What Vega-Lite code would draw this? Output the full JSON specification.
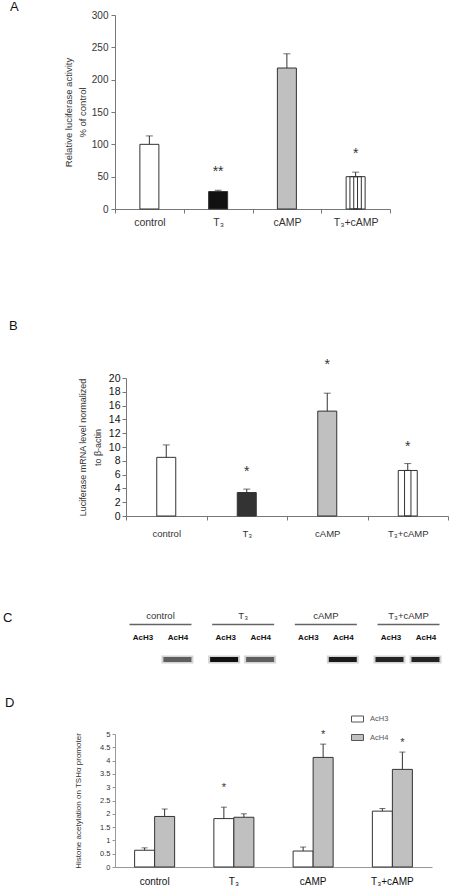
{
"$schema": "https://vega.github.io/schema/vega-lite/v6.json",
"padding": {"left": 3, "top": 1, "right": 0, "bottom": 0},
"background": "white",
"config": {
  "view": {"stroke": null},
  "font": "Liberation Sans",
  "axis": {"grid": false, "domainColor": "#777", "tickColor": "#777", "labelColor": "#333", "titleColor": "#333", "titleFontWeight": "normal", "labelFont": "Liberation Sans", "titleFont": "Liberation Sans", "labelFlush": false, "labelOverlap": false},
  "title": {"font": "Liberation Sans", "fontWeight": "normal", "fontSize": 13, "anchor": "start", "frame": "group", "offset": 0, "color": "#111"},
  "legend": {"labelFont": "Liberation Sans"}
},
"columns": 1,
"align": "none",
"spacing": 0,
"resolve": {"scale": {"fill": "independent", "xOffset": "independent", "opacity": "independent"}, "legend": {"fill": "independent", "opacity": "independent"}},
"concat": [
{
 "title": {"text": "A", "dx": -105, "dy": 8},
 "width": 275, "height": 194,
 "data": {"values": [
   {"treatment": "control", "value": 100, "err": 113, "sig": ""},
   {"treatment": "T₃", "value": 27, "err": 29, "sig": "**"},
   {"treatment": "cAMP", "value": 218, "err": 240, "sig": ""},
   {"treatment": "T₃+cAMP", "value": 50, "err": 57, "sig": "*"}
 ]},
 "resolve": {"axis": {"y": "independent"}},
 "encoding": {
   "x": {"field": "treatment", "type": "nominal", "sort": null, "scale": {"paddingInner": 0, "paddingOuter": 0},
         "axis": {"title": null, "labelAngle": 0, "tickBand": "extent", "tickSize": 4, "labelFontSize": 10.5, "labelPadding": 4}}
 },
 "layer": [
   {"mark": {"type": "bar", "width": 19, "stroke": "#333", "strokeWidth": 1},
    "encoding": {
      "y": {"field": "value", "type": "quantitative", "scale": {"domain": [0, 300]},
            "axis": {"values": [0,50,100,150,200,250,300], "labelOverlap": false, "title": ["Relative luciferase activity", "% of control"], "titleFontSize": 9.5, "titleLineHeight": 14, "labelFontSize": 10, "tickSize": 4, "labelPadding": 3, "titlePadding": 4}},
      "fill": {"field": "treatment", "type": "nominal", "sort": null, "scale": {"domain": ["control","T₃","cAMP","T₃+cAMP"], "range": ["#ffffff","#111111","#c0c0c0","#ffffff"]}, "legend": null}
    }},
   {"transform": [{"filter": "datum.treatment === 'T₃+cAMP'"}],
    "mark": {"type": "bar", "width": 11.4, "fillOpacity": 0, "stroke": "#333", "strokeWidth": 1},
    "encoding": {"y": {"field": "value", "type": "quantitative", "axis": null}}},
   {"transform": [{"filter": "datum.treatment === 'T₃+cAMP'"}],
    "mark": {"type": "bar", "width": 3.8, "fillOpacity": 0, "stroke": "#333", "strokeWidth": 1},
    "encoding": {"y": {"field": "value", "type": "quantitative", "axis": null}}},
   {"mark": {"type": "rule", "color": "#333"},
    "encoding": {"y": {"field": "value", "type": "quantitative", "axis": null}, "y2": {"field": "err"}}},
   {"mark": {"type": "tick", "orient": "horizontal", "size": 7, "thickness": 1, "color": "#333"},
    "encoding": {"y": {"field": "err", "type": "quantitative", "axis": null}}},
   {"mark": {"type": "text", "fontSize": 14, "dy": -18, "baseline": "middle", "color": "#333"},
    "encoding": {"y": {"field": "err", "type": "quantitative", "axis": null}, "text": {"field": "sig"}}}
 ]
},
{"width": 1, "height": 92, "data": {"values": []}, "mark": "point"},
{
 "title": {"text": "B", "dx": -106, "dy": -21},
 "width": 333, "height": 138,
 "data": {"values": [
   {"treatment": "control", "value": 8.5, "err": 10.3, "sig": ""},
   {"treatment": "T₃", "value": 3.4, "err": 3.9, "sig": "*"},
   {"treatment": "cAMP", "value": 15.2, "err": 17.8, "sig": "*"},
   {"treatment": "T₃+cAMP", "value": 6.6, "err": 7.6, "sig": "*"}
 ]},
 "resolve": {"axis": {"y": "independent"}},
 "encoding": {
   "x": {"field": "treatment", "type": "nominal", "sort": null, "scale": {"paddingInner": 0, "paddingOuter": 0, "range": [11, 333]},
         "axis": {"title": null, "labelAngle": 0, "tickBand": "extent", "tickSize": 4, "labelFontSize": 9.5, "labelPadding": 8}}
 },
 "layer": [
   {"mark": {"type": "bar", "width": 19, "stroke": "#333", "strokeWidth": 1},
    "encoding": {
      "y": {"field": "value", "type": "quantitative", "scale": {"domain": [0, 20]},
            "axis": {"offset": -11, "values": [0,2,4,6,8,10,12,14,16,18,20], "labelOverlap": false, "title": ["Luciferase mRNA level normalized", "to β-actin"], "titleFontSize": 9, "titleLineHeight": 15, "labelFontSize": 10.5, "labelColor": "#111", "tickSize": 4, "labelPadding": 2, "titlePadding": 6}},
      "fill": {"field": "treatment", "type": "nominal", "sort": null, "scale": {"domain": ["control","T₃","cAMP","T₃+cAMP"], "range": ["#ffffff","#333333","#c0c0c0","#ffffff"]}, "legend": null}
    }},
   {"transform": [{"filter": "datum.treatment === 'T₃+cAMP'"}],
    "mark": {"type": "bar", "width": 6.4, "fillOpacity": 0, "stroke": "#333", "strokeWidth": 1},
    "encoding": {"y": {"field": "value", "type": "quantitative", "axis": null}}},
   {"mark": {"type": "rule", "color": "#333"},
    "encoding": {"y": {"field": "value", "type": "quantitative", "axis": null}, "y2": {"field": "err"}}},
   {"mark": {"type": "tick", "orient": "horizontal", "size": 7, "thickness": 1, "color": "#333"},
    "encoding": {"y": {"field": "err", "type": "quantitative", "axis": null}}},
   {"transform": [{"filter": "datum.treatment !== 'cAMP'"}],
    "mark": {"type": "text", "fontSize": 14, "dy": -17, "baseline": "middle", "color": "#333"},
    "encoding": {"y": {"field": "err", "type": "quantitative", "axis": null}, "text": {"field": "sig"}}},
   {"transform": [{"filter": "datum.treatment === 'cAMP'"}],
    "mark": {"type": "text", "fontSize": 14, "dy": -28, "baseline": "middle", "color": "#333"},
    "encoding": {"y": {"field": "err", "type": "quantitative", "axis": null}, "text": {"field": "sig"}}}
 ]
},
{"width": 1, "height": 73, "data": {"values": []}, "mark": "point"},
{
 "title": {"text": "C", "dx": -112, "dy": 18},
 "width": 339, "height": 43.5,
 "data": {"values": [
   {"treatment": "control", "antibody": "AcH3", "signal": 0},
   {"treatment": "control", "antibody": "AcH4", "signal": 0.6},
   {"treatment": "T₃", "antibody": "AcH3", "signal": 1},
   {"treatment": "T₃", "antibody": "AcH4", "signal": 0.6},
   {"treatment": "cAMP", "antibody": "AcH3", "signal": 0},
   {"treatment": "cAMP", "antibody": "AcH4", "signal": 0.95},
   {"treatment": "T₃+cAMP", "antibody": "AcH3", "signal": 0.9},
   {"treatment": "T₃+cAMP", "antibody": "AcH4", "signal": 0.9}
 ]},
 "encoding": {"x": {"field": "treatment", "type": "nominal", "sort": null, "scale": {"paddingInner": 0, "paddingOuter": 0.05}, "axis": null}},
 "layer": [
   {"transform": [{"filter": "datum.antibody === 'AcH3'"}],
    "mark": {"type": "text", "fontSize": 9.5, "color": "#333", "baseline": "middle"},
    "encoding": {"y": {"datum": "treatment", "type": "nominal", "scale": {"type": "point", "domain": ["treatment", "antibody", "band"], "padding": 0}, "axis": null}, "text": {"field": "treatment"}}},
   {"transform": [{"filter": "datum.antibody === 'AcH3'"}],
    "mark": {"type": "tick", "orient": "horizontal", "size": 62, "thickness": 1.3, "color": "#222"},
    "encoding": {"y": {"datum": "treatment", "type": "nominal"}, "yOffset": {"value": 8.5}}},
   {"transform": [{"filter": "datum.antibody === 'AcH3'"}],
    "mark": {"type": "text", "fontSize": 8, "fontWeight": "bold", "color": "#111", "baseline": "middle", "dx": -17.5},
    "encoding": {"y": {"datum": "antibody", "type": "nominal"}, "text": {"field": "antibody"}}},
   {"transform": [{"filter": "datum.antibody === 'AcH4'"}],
    "mark": {"type": "text", "fontSize": 8, "fontWeight": "bold", "color": "#111", "baseline": "middle", "dx": 17.5},
    "encoding": {"y": {"datum": "antibody", "type": "nominal"}, "text": {"field": "antibody"}}},
   {"transform": [{"filter": "datum.signal > 0 && datum.antibody === 'AcH3'"}],
    "mark": {"type": "point", "shape": "M-1,-0.25H1V0.25H-1Z", "size": 1024, "filled": true, "color": "#111", "opacity": 0.18, "strokeWidth": 0},
    "encoding": {"xOffset": {"value": 22.3}, "y": {"datum": "band", "type": "nominal"}}},
   {"transform": [{"filter": "datum.signal > 0 && datum.antibody === 'AcH4'"}],
    "mark": {"type": "point", "shape": "M-1,-0.25H1V0.25H-1Z", "size": 1024, "filled": true, "color": "#111", "opacity": 0.18, "strokeWidth": 0},
    "encoding": {"xOffset": {"value": 58.3}, "y": {"datum": "band", "type": "nominal"}}},
   {"transform": [{"filter": "datum.signal > 0 && datum.antibody === 'AcH3'"}],
    "mark": {"type": "point", "shape": "M-1,-0.18H1V0.18H-1Z", "size": 784, "filled": true, "color": "#111", "strokeWidth": 0},
    "encoding": {"xOffset": {"value": 22.3}, "y": {"datum": "band", "type": "nominal"}, "opacity": {"field": "signal", "type": "quantitative", "scale": {"domain": [0, 1], "range": [0, 1]}, "legend": null}}},
   {"transform": [{"filter": "datum.signal > 0 && datum.antibody === 'AcH4'"}],
    "mark": {"type": "point", "shape": "M-1,-0.18H1V0.18H-1Z", "size": 784, "filled": true, "color": "#111", "strokeWidth": 0},
    "encoding": {"xOffset": {"value": 58.3}, "y": {"datum": "band", "type": "nominal"}, "opacity": {"field": "signal", "type": "quantitative", "scale": {"domain": [0, 1], "range": [0, 1]}, "legend": null}}}
 ]
},
{"width": 1, "height": 32, "data": {"values": []}, "mark": "point"},
{
 "title": {"text": "D", "dx": -110, "dy": 1},
 "width": 317, "height": 133,
 "data": {"values": [
   {"treatment": "control", "antibody": "AcH3", "value": 0.63, "err": 0.72, "sig": ""},
   {"treatment": "control", "antibody": "AcH4", "value": 1.9, "err": 2.18, "sig": ""},
   {"treatment": "T₃", "antibody": "AcH3", "value": 1.82, "err": 2.25, "sig": "*"},
   {"treatment": "T₃", "antibody": "AcH4", "value": 1.87, "err": 2.0, "sig": ""},
   {"treatment": "cAMP", "antibody": "AcH3", "value": 0.6, "err": 0.75, "sig": ""},
   {"treatment": "cAMP", "antibody": "AcH4", "value": 4.12, "err": 4.62, "sig": "*"},
   {"treatment": "T₃+cAMP", "antibody": "AcH3", "value": 2.1, "err": 2.2, "sig": ""},
   {"treatment": "T₃+cAMP", "antibody": "AcH4", "value": 3.67, "err": 4.32, "sig": "*"}
 ]},
 "resolve": {"axis": {"y": "independent"}},
 "encoding": {
   "x": {"field": "treatment", "type": "nominal", "sort": null, "scale": {"paddingInner": 0, "paddingOuter": 0},
         "axis": {"title": null, "labelAngle": 0, "ticks": false, "labelFontSize": 10, "labelColor": "#111", "labelPadding": 9, "domainColor": "#999"}},
   "xOffset": {"field": "antibody", "type": "nominal", "scale": {"paddingInner": 0, "paddingOuter": 0.98}}
 },
 "layer": [
   {"mark": {"type": "bar", "stroke": "#333", "strokeWidth": 1},
    "encoding": {
      "y": {"field": "value", "type": "quantitative", "scale": {"domain": [0, 5]},
            "axis": {"values": [0,0.5,1,1.5,2,2.5,3,3.5,4,4.5,5], "format": "~g", "labelOverlap": false, "title": "Histone acetylation on TSHα promoter", "titleFontSize": 8, "labelFontSize": 7.5, "tickSize": 3, "labelPadding": 2, "titlePadding": 17, "domainColor": "#999", "tickColor": "#999"}},
      "fill": {"field": "antibody", "type": "nominal", "scale": {"domain": ["AcH3", "AcH4"], "range": ["#ffffff", "#c0c0c0"]},
               "legend": {"orient": "none", "legendX": 236, "legendY": -21.5, "title": null, "symbolType": "M-1,-0.5H1V0.5H-1Z", "symbolSize": 144, "symbolStrokeColor": "#555", "symbolStrokeWidth": 1, "labelFontSize": 7.5, "labelColor": "#555", "rowPadding": 6.5, "padding": 0, "labelOffset": 6}}
    }},
   {"mark": {"type": "rule", "color": "#333"},
    "encoding": {"y": {"field": "value", "type": "quantitative", "axis": null}, "y2": {"field": "err"}}},
   {"mark": {"type": "tick", "orient": "horizontal", "size": 6, "thickness": 1, "color": "#333"},
    "encoding": {"y": {"field": "err", "type": "quantitative", "axis": null}}},
   {"transform": [{"filter": "datum.treatment !== 'T₃'"}],
    "mark": {"type": "text", "fontSize": 11, "dy": -9, "baseline": "middle", "color": "#333"},
    "encoding": {"y": {"field": "err", "type": "quantitative", "axis": null}, "text": {"field": "sig"}}},
   {"transform": [{"filter": "datum.treatment === 'T₃'"}],
    "mark": {"type": "text", "fontSize": 11, "dy": -19, "baseline": "middle", "color": "#333"},
    "encoding": {"y": {"field": "err", "type": "quantitative", "axis": null}, "text": {"field": "sig"}}}
 ]
}
]
}
